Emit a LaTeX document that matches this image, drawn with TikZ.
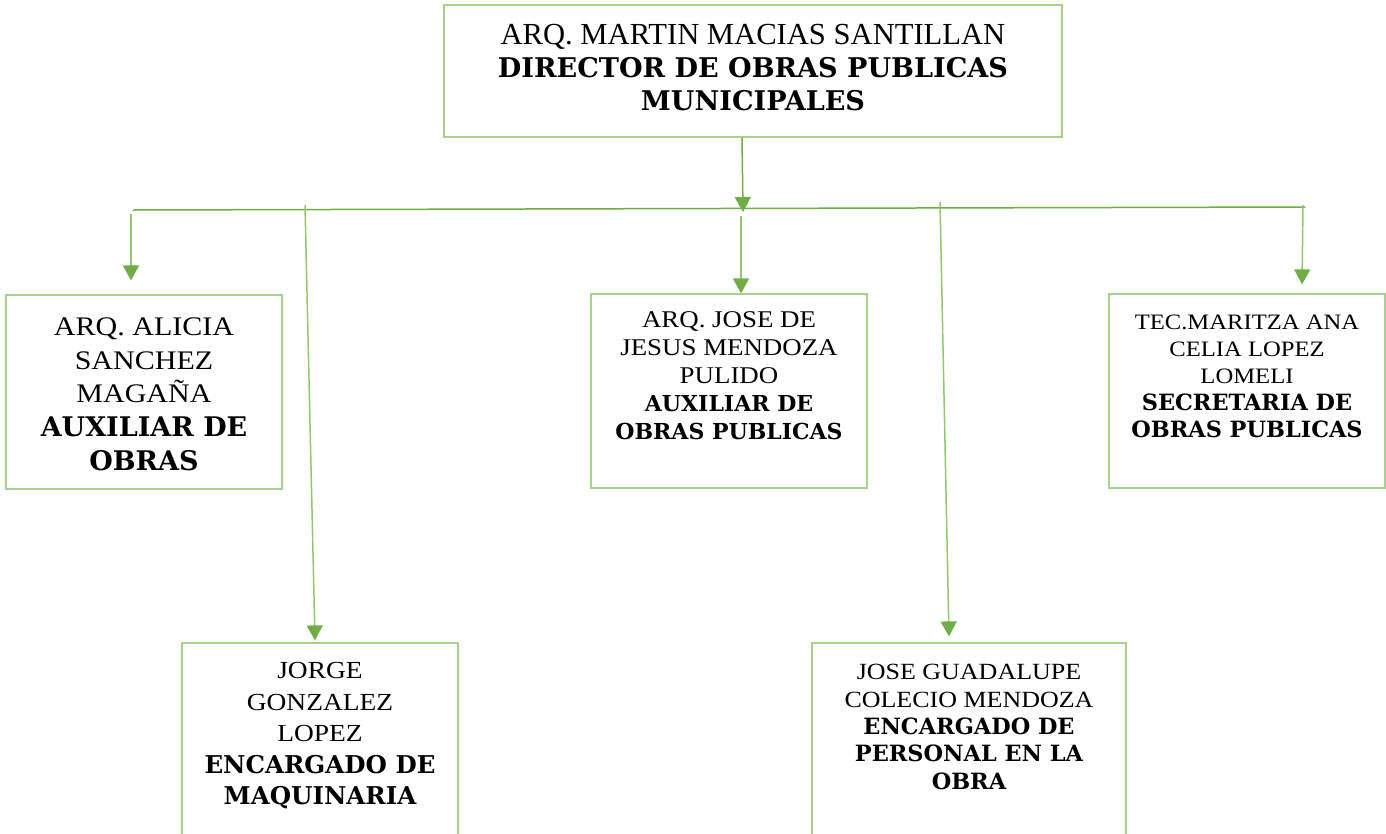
\documentclass[tikz,border=0pt]{standalone}
\usepackage{fontspec}
\setmainfont{Liberation Serif}
\newfontfamily\widefont[FakeStretch=1.12]{Liberation Serif}
\newfontfamily\bkfont{DejaVu Serif}
\usetikzlibrary{arrows.meta,calc}
\definecolor{boxgreen}{HTML}{A9D18E}
\definecolor{linegreen}{HTML}{70AD47}
\definecolor{lightline}{HTML}{92C671}
\newcommand\rl[2]{{\widefont\fontsize{#1}{#1}\selectfont #2}}
\newcommand\bl[2]{{\bkfont\bfseries\fontsize{#1}{#1}\selectfont #2}}
\begin{document}
\begin{tikzpicture}[x=1pt,y=-1pt,
  box/.style={draw=boxgreen, line width=1.2pt, inner sep=0pt},
  txt/.style={anchor=north, inner sep=0pt, align=center},
  conn/.style={draw=linegreen, line width=1.5pt},
  lconn/.style={draw=lightline, line width=1.5pt},
  arr/.style={-{Triangle[width=16pt,length=15pt,color=linegreen,fill=linegreen]}}]
\useasboundingbox (0,0) rectangle (1386,833);
\clip (0,0) rectangle (1386,833);

% boxes
\node[box, minimum width=618pt, minimum height=132pt] (dir) at (753,71) {};
\node[box, minimum width=276pt, minimum height=194pt] (alicia) at (144,392) {};
\node[box, minimum width=276pt, minimum height=194pt] (jose) at (729,391) {};
\node[box, minimum width=276pt, minimum height=194pt] (maritza) at (1247,391) {};
\node[box, minimum width=276pt, minimum height=197pt] (jorge) at (320,741.5) {};
\node[box, minimum width=314pt, minimum height=197pt] (guada) at (969,741.5) {};

% texts
\node[txt, font=\fontsize{10}{33}\selectfont] (dirt) at ($(dir.north)+(0,20)$)
  {{\fontsize{30.6}{30.6}\selectfont ARQ. MARTIN MACIAS SANTILLAN}\\ \bl{27.1}{DIRECTOR DE OBRAS PUBLICAS}\\ \bl{27.1}{MUNICIPALES}};
\node[txt, font=\fontsize{10}{33.7}\selectfont] (aliciat) at ($(alicia.north)+(0,23)$)
  {\rl{26.8}{ARQ. ALICIA}\\ \rl{26.8}{SANCHEZ}\\ \rl{26.8}{MAGAÑA}\\ \bl{27}{AUXILIAR DE}\\ \bl{27}{OBRAS}};
\node[txt, font=\fontsize{10}{28}\selectfont] (joset) at ($(jose.north)+(0,18)$)
  {\rl{24}{ARQ. JOSE DE}\\ \rl{24}{JESUS MENDOZA}\\ \rl{24}{PULIDO}\\ \bl{22}{AUXILIAR DE}\\ \bl{22}{OBRAS PUBLICAS}};
\node[txt, font=\fontsize{10}{27}\selectfont] (maritzat) at ($(maritza.north)+(0,21)$)
  {\rl{22}{TEC.MARITZA ANA}\\ \rl{22}{CELIA LOPEZ}\\ \rl{22}{LOMELI}\\ \bl{22.4}{SECRETARIA DE}\\ \bl{22.4}{OBRAS PUBLICAS}};
\node[txt, font=\fontsize{10}{31.5}\selectfont] (jorget) at ($(jorge.north)+(0,20)$)
  {\rl{24.5}{JORGE}\\ \rl{24.5}{GONZALEZ}\\ \rl{24.5}{LOPEZ}\\ \bl{24.5}{ENCARGADO DE}\\ \bl{24.5}{MAQUINARIA}};
\node[txt, font=\fontsize{10}{27.3}\selectfont] (guadat) at ($(guada.north)+(0,22)$)
  {\rl{23.2}{JOSE GUADALUPE}\\ \rl{23.2}{COLECIO MENDOZA}\\ \bl{22.4}{ENCARGADO DE}\\ \bl{22.4}{PERSONAL EN LA}\\ \bl{22.4}{OBRA}};

% connector coordinates
\coordinate (busL) at (133,210);
\coordinate (busR) at (1305,207);
\coordinate (d0) at ($(dir.south)+(-11,0)$);
\coordinate (d1) at (743,212);
\coordinate (a0) at (131,214);
\coordinate (a1) at ($(alicia.north)+(-13,-14)$);
\coordinate (g0) at (305,205);
\coordinate (g1) at ($(jorge.north)+(-5,-2)$);
\coordinate (j0) at (741,216);
\coordinate (j1) at ($(jose.north)+(12,0)$);
\coordinate (c0) at (940,202);
\coordinate (c1) at ($(guada.north)+(-20,-6)$);
\coordinate (m0) at (1303,205);
\coordinate (m1) at ($(maritza.north)+(55,-9)$);

% connectors
\draw[conn] (busL) -- (busR);
\draw[conn, arr] (d0) -- (d1);
\draw[lconn, arr] (a0) -- (a1);
\draw[lconn, arr] (g0) -- (g1);
\draw[lconn, arr] (j0) -- (j1);
\draw[lconn, arr] (c0) -- (c1);
\draw[lconn, arr] (m0) -- (m1);
\end{tikzpicture}
\end{document}
